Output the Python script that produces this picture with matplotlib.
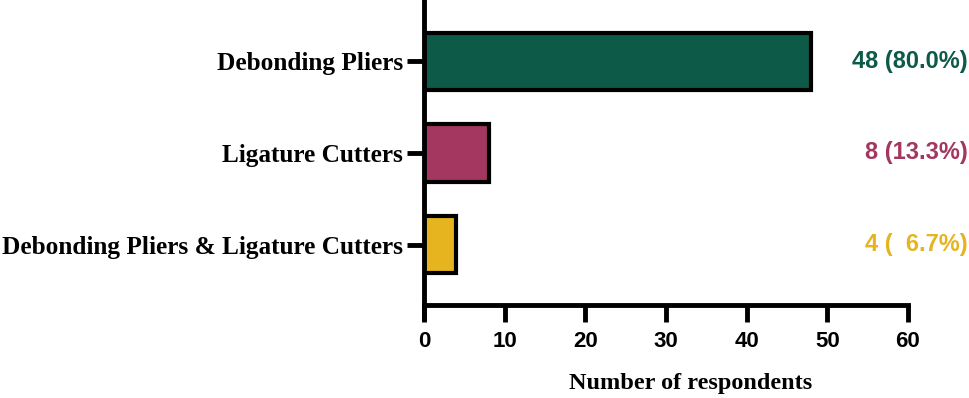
import matplotlib

matplotlib.use("Agg")
import matplotlib.pyplot as plt
from matplotlib.transforms import blended_transform_factory

categories = ["Debonding Pliers", "Ligature Cutters", "Debonding Pliers & Ligature Cutters"]
counts = [48, 8, 4]
value_labels = ["48 (80.0%)", "8 (13.3%)", "4 (  6.7%)"]
colors = ["#0d5a48", "#a3375f", "#e5b41f"]
xticks = [0, 10, 20, 30, 40, 50, 60]

fig = plt.figure(figsize=(9.7, 3.98), dpi=100)
ax = fig.add_axes([424 / 970, (398 - 305) / 398, (908 - 424) / 970, 305 / 398])

ypos = list(range(len(categories)))
ax.barh(ypos, counts, height=0.63, color=colors, edgecolor="black", linewidth=3)

ax.set_ylim(2.66, -0.67)
ax.set_xlim(0, 60)

ax.spines["top"].set_visible(False)
ax.spines["right"].set_visible(False)
ax.spines["left"].set_linewidth(3.5)
ax.spines["bottom"].set_linewidth(3.5)
ax.spines["left"].set_bounds(-0.67, 2.8)
ax.spines["left"].set_clip_on(False)

ax.set_yticks(ypos)
ax.set_yticklabels(categories, fontfamily="Liberation Serif", fontweight="bold", fontsize=18.2)
ax.tick_params(axis="y", length=12, width=3.5, pad=3)

ax.set_xticks(xticks)
ax.set_xticklabels([str(t) for t in xticks], fontfamily="Liberation Sans", fontweight="bold", fontsize=16)
ax.tick_params(axis="x", length=12, width=3.5, pad=7)

ax.set_xlabel("Number of respondents", fontfamily="Liberation Serif", fontweight="bold", fontsize=17.5)
ax.xaxis.label.set_va("center")
ax.xaxis.set_label_coords(0.55, -0.256)

# value labels right-aligned near the figure's right edge
tr = blended_transform_factory(fig.transFigure, ax.transData)
for y, lab, c in zip(ypos, value_labels, colors):
    ax.text(968 / 970, y, lab, transform=tr, ha="right", va="center", color=c,
            fontfamily="Liberation Sans", fontweight="bold", fontsize=17)

fig.savefig("out.png", dpi=100)
